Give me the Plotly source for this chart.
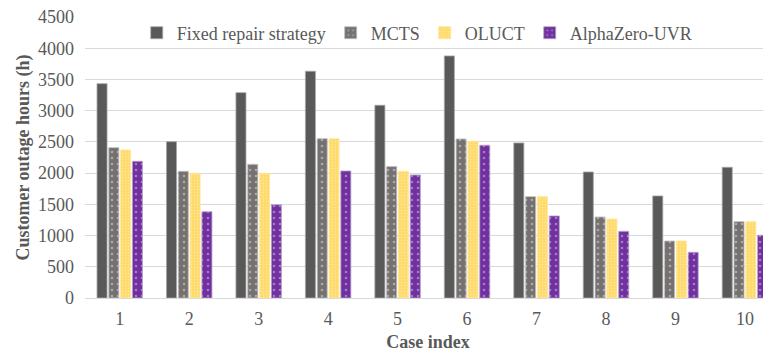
import plotly.graph_objects as go

cases = ["1", "2", "3", "4", "5", "6", "7", "8", "9", "10"]
fixed = [3434, 2505, 3290, 3633, 3088, 3878, 2484, 2019, 1635, 2094]
mcts = [2409, 2030, 2143, 2553, 2105, 2548, 1624, 1298, 913, 1223]
oluct = [2372, 1998, 1998, 2553, 2030, 2511, 1624, 1266, 913, 1223]
alphazero = [2190, 1383, 1495, 2035, 1971, 2447, 1314, 1068, 732, 1005]
y_ticks = [0, 500, 1000, 1500, 2000, 2500, 3000, 3500, 4000, 4500]

font_family = "Times New Roman, Liberation Serif, serif"
gray_text = "#595959"

fig = go.Figure()
fig.add_bar(name="Fixed repair strategy", x=cases, y=fixed,
            marker=dict(color="#595959", line=dict(color="#A6A6A6", width=0.8)))
fig.add_bar(name="MCTS", x=cases, y=mcts,
            marker=dict(color="#767171", line=dict(color="#BFBFBF", width=0.8),
                        pattern=dict(shape=".", fgcolor="#E0E0E0", size=6, solidity=0.15)))
fig.add_bar(name="OLUCT", x=cases, y=oluct,
            marker=dict(color="#FFD966", line=dict(color="#FFE699", width=0.8),
                        pattern=dict(shape=".", fgcolor="#FFF2CC", size=3, solidity=0.3)))
fig.add_bar(name="AlphaZero-UVR", x=cases, y=alphazero,
            marker=dict(color="#7030A0", line=dict(color="#B4A0C8", width=0.8),
                        pattern=dict(shape=".", fgcolor="#D9C8E8", size=6, solidity=0.15)))

fig.update_layout(
    width=763, height=344,
    margin=dict(l=77, r=0, t=9, b=54, pad=0, autoexpand=False),
    paper_bgcolor="white", plot_bgcolor="white",
    barmode="group", bargap=0.32, bargroupgap=0.15,
    font=dict(family=font_family, color=gray_text, size=18),
    legend=dict(orientation="h", x=0.0754, y=0.943, xanchor="left", yanchor="middle",
                font=dict(family=font_family, size=18, color=gray_text),
                bgcolor="rgba(0,0,0,0)", itemwidth=30, tracegroupgap=0),
    showlegend=True,
)
fig.update_xaxes(
    type="category", range=[-0.5, 9.375], automargin=False,
    showgrid=False, showline=True, linecolor="#D9D9D9", linewidth=1,
    ticks="", ticklabelstandoff=4, tickfont=dict(family=font_family, size=18, color=gray_text),
    title=dict(text="<b>Case index</b>", font=dict(family=font_family, size=18, color=gray_text), standoff=8),
)
fig.update_yaxes(
    range=[0, 4502], tickmode="array", tickvals=y_ticks, ticktext=[str(v) for v in y_ticks],
    showgrid=True, gridcolor="#D9D9D9", gridwidth=1, ticklabeloverflow="allow",
    zeroline=False, showline=False, ticks="", automargin=False, ticklabelstandoff=10,
    tickfont=dict(family=font_family, size=18, color=gray_text),
    title=dict(text="<b>Customer outage hours (h)</b>", font=dict(family=font_family, size=18, color=gray_text), standoff=3),
)

fig.write_html("out.html")
